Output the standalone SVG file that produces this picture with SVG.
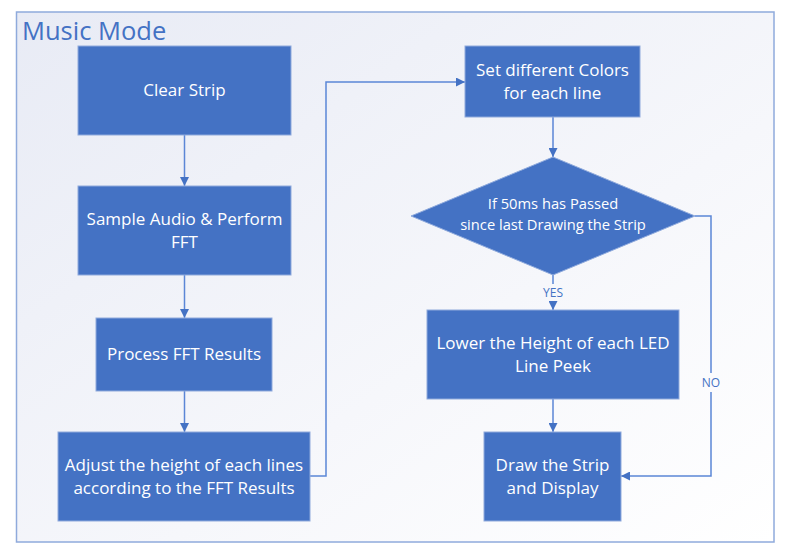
<svg xmlns="http://www.w3.org/2000/svg" width="800" height="559" viewBox="0 0 800 559">
<defs>
<linearGradient id="bg" x1="0" y1="0" x2="1" y2="1">
<stop offset="0" stop-color="#e8ebf5"/>
<stop offset="0.6" stop-color="#f6f7fb"/>
<stop offset="1" stop-color="#ffffff"/>
</linearGradient>
<marker id="a" viewBox="0 0 10 10" refX="10" refY="5" markerWidth="9" markerHeight="9" orient="auto" markerUnits="userSpaceOnUse">
<path d="M0,0 L10,5 L0,10 z" fill="#4472c4"/>
</marker>
</defs>
<style>
.box{fill:#4472c4;stroke:#8faadc;stroke-width:1}
.t{fill:#ffffff;font-family:"Open Sans","Noto Sans",sans-serif;font-size:17px;text-anchor:middle}
.d{font-size:14.7px}
.c{fill:none;stroke:#5b86d6;stroke-width:1.5}
.lbl{fill:#4472c4;font-family:"Open Sans","Noto Sans",sans-serif;font-size:12px;text-anchor:middle}
</style>
<rect x="0" y="0" width="800" height="559" fill="#ffffff"/>
<rect id="frame" x="16.5" y="12" width="757.5" height="530" fill="url(#bg)" stroke="#8faadc" stroke-width="1.5"/>
<text x="22" y="40" font-family="'Open Sans','Noto Sans',sans-serif" font-size="25.5" fill="#4472c4">Music Mode</text>

<g id="connectors">
<path class="c" d="M184.5,135 V186" marker-end="url(#a)"/>
<path class="c" d="M184.5,275 V318" marker-end="url(#a)"/>
<path class="c" d="M184.5,391 V432" marker-end="url(#a)"/>
<path class="c" d="M310,476 H326 V82 H465" marker-end="url(#a)"/>
<path class="c" d="M553,117 V157" marker-end="url(#a)"/>
<path class="c" d="M553,275 V284 M553,301 V310" marker-end="url(#a)"/>
<path class="c" d="M695,216 H711 V373 M711,392 V476 H621" marker-end="url(#a)"/>
<path class="c" d="M553,399 V432" marker-end="url(#a)"/>
<text class="lbl" x="553" y="297">YES</text>
<text class="lbl" x="711" y="387">NO</text>
</g>

<g id="clear-strip">
<rect class="box" x="78" y="46" width="213" height="89"/>
<text class="t" x="184.5" y="96">Clear Strip</text>
</g>
<g id="sample-audio">
<rect class="box" x="78" y="186" width="213" height="89"/>
<text class="t" x="184.5" y="225">Sample Audio &amp; Perform</text>
<text class="t" x="184.5" y="248">FFT</text>
</g>
<g id="process-fft">
<rect class="box" x="96" y="318" width="176" height="73"/>
<text class="t" x="184" y="360">Process FFT Results</text>
</g>
<g id="adjust-height">
<rect class="box" x="58" y="432" width="252" height="89"/>
<text class="t" x="184" y="471">Adjust the height of each lines</text>
<text class="t" x="184" y="494">according to the FFT Results</text>
</g>
<g id="set-colors">
<rect class="box" x="465" y="46" width="175" height="71"/>
<text class="t" x="552.5" y="76">Set different Colors</text>
<text class="t" x="552.5" y="99">for each line</text>
</g>
<g id="decision">
<polygon class="box" points="553,157 695,216 553,275 411,216"/>
<text class="t d" x="553" y="209">If 50ms has Passed</text>
<text class="t d" x="553" y="230">since last Drawing the Strip</text>
</g>
<g id="lower-height">
<rect class="box" x="427" y="310" width="252" height="89"/>
<text class="t" x="553" y="349">Lower the Height of each LED</text>
<text class="t" x="553" y="372">Line Peek</text>
</g>
<g id="draw-strip">
<rect class="box" x="484" y="432" width="137" height="89"/>
<text class="t" x="552.5" y="471">Draw the Strip</text>
<text class="t" x="552.5" y="494">and Display</text>
</g>
</svg>
